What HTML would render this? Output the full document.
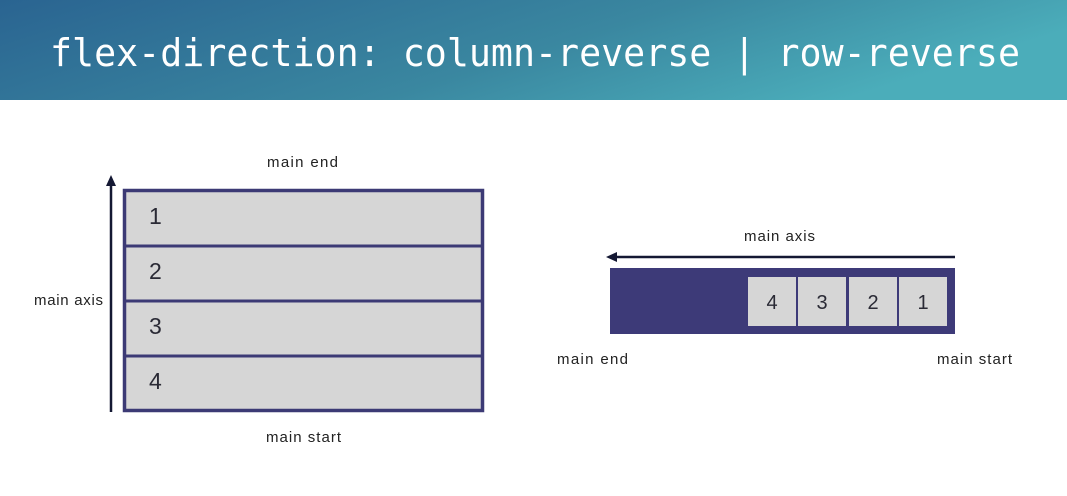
<!DOCTYPE html>
<html><head><meta charset="utf-8"><style>
html,body{margin:0;padding:0;background:#fff;width:1067px;height:496px;overflow:hidden}
</style></head><body>
<svg width="1067" height="496" xmlns="http://www.w3.org/2000/svg" font-family="Liberation Sans, sans-serif">
<defs><linearGradient id="g" x1="0" y1="0" x2="1" y2="0.3">
<stop offset="0" stop-color="#2a6491"/><stop offset="0.6" stop-color="#3a87a0"/><stop offset="1" stop-color="#4badba"/></linearGradient></defs>
<rect x="0" y="0" width="1067" height="100" fill="url(#g)"/>
<text x="535" y="66" text-anchor="middle" fill="#fff" font-family="DejaVu Sans Mono, monospace" font-size="38" textLength="970" lengthAdjust="spacingAndGlyphs">flex-direction: column-reverse | row-reverse</text>
<!-- left -->
<rect x="124.5" y="190.5" width="358" height="220" fill="#d6d6d6" stroke="#3c3a75" stroke-width="3.5"/>
<line x1="124" y1="246" x2="483" y2="246" stroke="#3c3a75" stroke-width="3"/>
<line x1="124" y1="301" x2="483" y2="301" stroke="#3c3a75" stroke-width="3"/>
<line x1="124" y1="356" x2="483" y2="356" stroke="#3c3a75" stroke-width="3"/>
<g font-size="23" fill="#2a2a35">
<text x="149" y="224">1</text><text x="149" y="279">2</text><text x="149" y="334">3</text><text x="149" y="389">4</text>
</g>
<line x1="111" y1="412" x2="111" y2="184" stroke="#141833" stroke-width="2.5"/>
<polygon points="111,175 106,186 116,186" fill="#141833"/>
<g font-size="15" fill="#222" lengthAdjust="spacingAndGlyphs">
<text x="267" y="167" textLength="71">main end</text>
<text x="266" y="442" textLength="75">main start</text>
<text x="34" y="305" textLength="69">main axis</text>
<text x="744" y="241" textLength="71">main axis</text>
<text x="557" y="364" textLength="71">main end</text>
<text x="937" y="364" textLength="75">main start</text>
</g>
<!-- right -->
<line x1="955" y1="257" x2="615" y2="257" stroke="#141833" stroke-width="2.5"/>
<polygon points="606,257 617,252 617,262" fill="#141833"/>
<rect x="610" y="268" width="345" height="66" fill="#3d3a78"/>
<g fill="#d6d6d6">
<rect x="748" y="277" width="48" height="49"/><rect x="798" y="277" width="48" height="49"/>
<rect x="849" y="277" width="48" height="49"/><rect x="899" y="277" width="48" height="49"/>
</g>
<g font-size="20" fill="#2a2a35" text-anchor="middle">
<text x="772" y="309">4</text><text x="822" y="309">3</text><text x="873" y="309">2</text><text x="923" y="309">1</text>
</g>
</svg>
</body></html>
